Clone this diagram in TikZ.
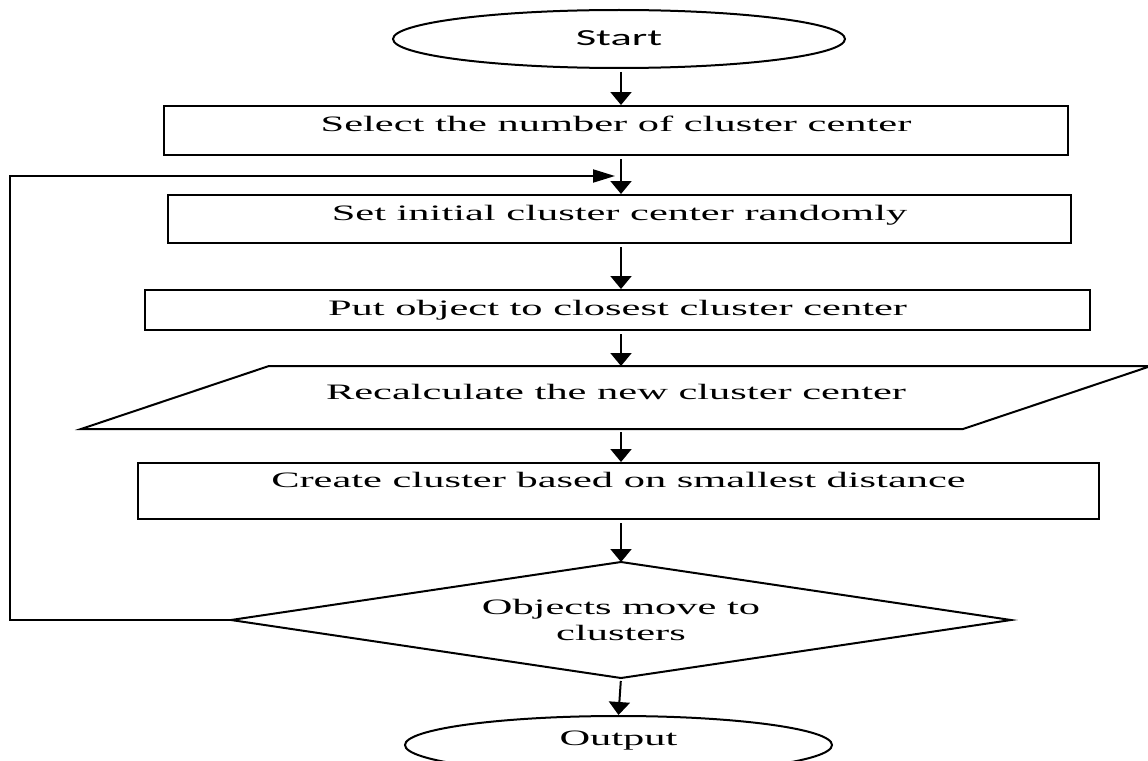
\documentclass[tikz,border=0pt]{standalone}
\usepackage{fontspec}
\usepackage{tikz}
\usetikzlibrary{shapes.geometric,arrows.meta}
\newfontfamily\flowfont[FakeStretch=1.93]{Liberation Serif}
\newfontfamily\startfont[FakeStretch=1.93]{Carlito}

\begin{document}
\begin{tikzpicture}[x=1pt,y=-1pt,line width=2pt,
  box/.style={draw,rectangle,inner sep=0pt,font=\flowfont\fontsize{22}{26}\selectfont},
  oval/.style={draw,ellipse,inner sep=0pt,font=\flowfont\fontsize{22}{26}\selectfont},
  txt/.style={text height=15pt,text depth=#1},
  txt/.default=5pt,
  arr/.style={-{Triangle[width=21pt,length=13pt]},shorten <=3pt},
  arrback/.style={-{Triangle[width=13pt,length=22pt]}}]
\useasboundingbox (0,0) rectangle (1148,760);

\node[oval,font=\startfont\fontsize{23}{27}\selectfont,txt=2pt,minimum width=452pt,minimum height=58pt] (start) at (619,39) {Start};
\node[box,txt=13pt,minimum width=904pt,minimum height=49pt] (sel) at (616,130.5) {Select the number of cluster center};
\node[box,txt=13pt,minimum width=903pt,minimum height=48pt] (init) at (619.5,219) {Set initial cluster center randomly};
\node[box,txt,minimum width=945pt,minimum height=40pt] (put) at (617.5,310) {Put object to closest cluster center};
\node[box,draw=none,txt=11pt,minimum width=880pt,minimum height=61pt] (recalc) at (616,397.5) {Recalculate the new cluster center};
\draw ([xshift=94pt]recalc.north west) -- ([xshift=94pt]recalc.north east) -- ([xshift=-94pt]recalc.south east) -- ([xshift=-94pt]recalc.south west) -- cycle;
\node[box,txt=23pt,minimum width=961pt,minimum height=56pt] (create) at (618.5,491) {Create cluster based on smallest distance};
\node[box,draw=none,align=center,minimum width=778pt,minimum height=114pt] (moves) at (621,620) {Objects move to\\clusters};
\draw (moves.north) -- (moves.east) -- (moves.south) -- (moves.west) -- cycle;
\node[oval,txt=15pt,minimum width=427pt,minimum height=58pt] (output) at (618.5,745) {Output};

\coordinate (spine) at (621,0);
\draw[arr] (start.south -| spine) -- (sel.north -| spine);
\draw[arr] (sel.south -| spine) -- (init.north -| spine);
\draw[arr] (init.south -| spine) -- (put.north -| spine);
\draw[arr] (put.south -| spine) -- (recalc.north -| spine);
\draw[arr] (recalc.south -| spine) -- (create.north -| spine);
\draw[arr] (create.south -| spine) -- (moves.north -| spine);
\draw[arr] (moves.south) -- (output.north);

\coordinate (back) at (10,176);
\coordinate (join) at (615,176);
\draw[arrback] (moves.west) -| (back) -- (join);
\end{tikzpicture}
\end{document}
